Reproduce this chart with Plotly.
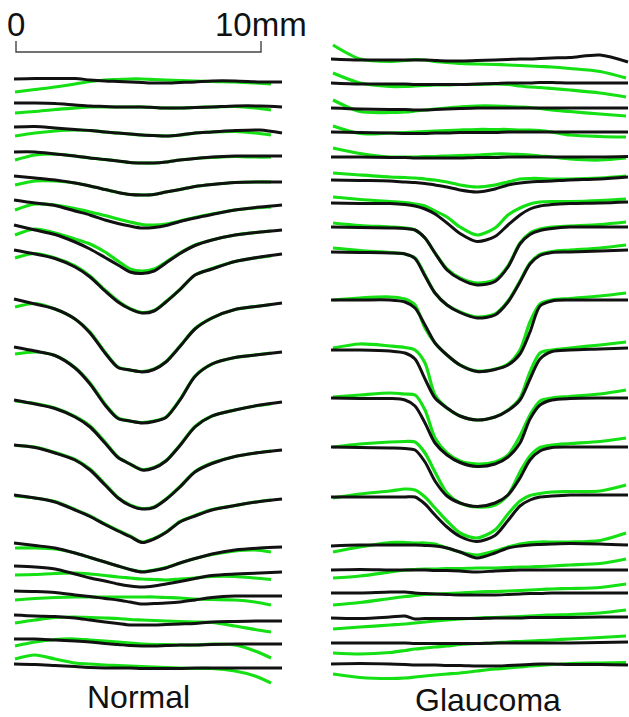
import plotly.graph_objects as go

# ---------------- data (scan units: 24.5 units = 1 mm) ----------------
PX_PER_MM = 24.5
SCALE_MM = [0, 10]
SCALE_LABELS = ["0", "10mm"]
PANEL_LABELS = ["Normal", "Glaucoma"]

# Normal eye: sample positions along the scan (relative to panel start)
NORMAL_SCAN_X = [0, 21, 41, 61, 76, 91, 104, 116, 128, 140, 152, 166, 181, 198, 221, 246, 268]
NORMAL_FIT_X = [1, 21, 41, 61, 76, 91, 104, 116, 128, 140, 152, 166, 181, 198, 221, 241, 257]
NORMAL_BASE = [79, 103, 127, 152, 176, 200, 225, 250, 299, 347, 400, 445, 495, 543, 566, 591, 615, 639, 664]
NORMAL_SCAN = [
    [0, -0.5, -0.5, -0.5, 1, 2, 2.5, 3, 3.5, 4, 4, 3.5, 3, 2, 2, 3, 3],
    [0, 0, 0.5, 2, 3, 3.5, 4, 4, 4, 4.5, 5, 5, 4.5, 4, 3, 3, 4],
    [0, -0.5, 1, 2.5, 3.5, 5, 6, 7, 8, 8.5, 9, 8, 6, 5, 3.5, 3, 6],
    [0, 0, 2, 4, 6, 7.5, 9, 10.5, 11, 11, 10, 8, 6.5, 5, 4, 4, 4],
    [0, 2, 4, 7, 10, 13.5, 16.5, 18.5, 19, 18.5, 16, 13.5, 10.5, 8.5, 6.5, 6, 6],
    [0, 3, 5.5, 11, 15, 20, 23.5, 26, 28, 27.5, 25.5, 21.5, 18, 14.5, 10, 7, 5],
    [0, 5, 9.5, 17, 24, 32.5, 40, 47, 48.5, 46, 38, 28.5, 20.5, 15, 10, 7, 5],
    [0, 4, 8.5, 17, 27, 41, 52, 59, 63, 61, 52, 39.5, 25, 19, 11.5, 7, 4],
    [0, 5, 10, 20, 34, 54, 68.5, 71, 73, 70.5, 63, 47.5, 30, 19, 10.5, 7, 4],
    [0, 4, 8.5, 21, 37, 58, 71.5, 74, 76, 74.5, 70.5, 53, 29.5, 17, 10.5, 7.5, 5],
    [0, 4, 8.5, 17, 27, 43, 57.5, 64, 70, 68, 61, 45.5, 27, 16, 10, 5, 2],
    [0, 2.5, 8, 15, 25, 40, 53, 60.5, 64, 62.5, 54.5, 42, 27, 18.5, 11.5, 7.5, 5],
    [0, 3, 7, 15, 21.5, 29.5, 36, 41.5, 47.5, 44, 37.5, 27, 21, 15, 10.5, 6.5, 4],
    [0, 2.5, 5, 10, 14.5, 19, 23, 26.5, 29, 27.5, 25, 20, 15.5, 11, 7, 5, 4],
    [0, 1, 3, 8, 12, 15, 18, 20, 21, 20, 18, 15.5, 12.5, 9.5, 8, 7, 6],
    [0, 0.5, 1.5, 4, 5.5, 7.5, 9, 11, 13, 12.5, 12, 11, 9, 6.5, 5, 5, 5],
    [0, 1, 1.5, 3, 5, 7, 8.5, 10, 10, 10, 9.5, 9, 8.5, 7, 6.5, 6, 6],
    [0, 0, 1, 2, 3, 4.5, 5.5, 6.5, 7, 7, 6.5, 6, 6, 5.5, 5, 5, 5],
    [0, 0.5, 1.5, 2.5, 3.5, 4, 4, 4, 4.5, 4.5, 4.5, 4.5, 4, 4, 4, 4, 4],
]
NORMAL_FIT = [
    [13, 10.5, 8, 5, 2.5, 1, 0.5, 0, 0, 0.5, 1, 1.5, 2, 2.5, 3, 4, 5],
    [10, 8.5, 6.5, 5, 4, 4, 4, 4, 4, 4.5, 5, 5, 4.5, 4, 3.5, 5, 7],
    [9, 6, 4, 3, 3.5, 5, 6, 7, 8, 8.5, 9, 8, 6, 5, 4.5, 6, 8],
    [8, 3, 2, 4, 6, 7.5, 9, 10.5, 11, 11, 10, 8, 6.5, 5.5, 4.5, 5, 5],
    [9, 5, 5, 7, 10, 13.5, 16.5, 18.5, 19, 18.5, 16, 13.5, 10.5, 8.5, 6.5, 6, 6],
    [10, 4, 5, 8.5, 12, 15.5, 19, 22, 24.5, 25, 24, 21, 17.5, 14, 10, 8, 7],
    [10, 4, 8, 14, 19, 27, 36, 44, 46, 44, 37, 28, 20, 15, 10, 7.5, 6],
    [8, 3.5, 8, 16, 26, 40, 51, 58.5, 62.5, 60.5, 51.5, 39.5, 25, 18.5, 11.5, 8, 6],
    [8, 4.5, 10, 20, 33, 53, 68, 71, 72.5, 70, 62.5, 47, 29.5, 19, 10.5, 7.5, 5.5],
    [7, 5, 8.5, 20.5, 36, 57, 71, 74, 75.5, 74, 70, 52.5, 29, 17, 10.5, 8, 6],
    [1, 3.5, 8, 16.5, 26, 42, 57, 64, 69.5, 67.5, 60.5, 45, 26.5, 16, 10, 6, 4],
    [0.5, 2, 7.5, 14.5, 24, 39, 52.5, 60, 63.5, 62, 54, 41.5, 26.5, 18, 11.5, 8, 6],
    [1, 3, 6.5, 14.5, 21, 29, 35.5, 41, 47, 43.5, 37, 26.5, 20.5, 14.5, 10.5, 7, 5],
    [5, 5, 6, 10, 14.5, 19, 23, 26.5, 28.5, 27, 24.5, 20, 15.5, 11.5, 8, 7, 9],
    [9, 8.5, 7.5, 7, 8, 9.5, 11, 12, 13, 13.5, 14, 13, 12, 10.5, 10.5, 12, 13.5],
    [9, 7.5, 6.5, 6, 6, 6, 6, 6, 6, 6, 6.5, 7, 8, 8.5, 9, 11, 14],
    [8, 5, 2.5, 2, 2.5, 3, 3.5, 4.5, 5, 5.5, 6, 6.5, 7, 7.5, 11, 14.5, 17],
    [7, 3, 0.5, 0, 1, 2, 3, 4, 5, 5.5, 5.5, 6, 6, 5, 6, 12, 19],
    [-5, -9, -5, -1, 0, 1, 1.5, 2, 2.5, 3, 3.5, 4, 4.5, 4.5, 7, 12, 19],
]

# Glaucoma eye
GLAUCOMA_SCAN_X = [0, 29, 59, 74, 84, 94, 104, 116, 129, 146, 164, 177, 189, 199, 209, 221, 239, 269, 297]
GLAUCOMA_FIT_X = [2, 29, 59, 74, 84, 94, 104, 116, 129, 146, 164, 177, 189, 199, 209, 221, 239, 269, 295]
GLAUCOMA_BASE = [59, 83, 108, 132, 157, 180, 203, 227, 252, 300, 350, 398, 447, 497, 546, 570, 593, 618, 643, 664]
GLAUCOMA_SCAN = [
    [0, 1, 1, 1, 1, 1, 1.5, 2, 2, 1.5, 1, 0.5, 0, 0, -0.5, -1, -1.5, -4, 3],
    [0, 1, 1, 1, 1.5, 1.5, 1.5, 1.5, 1.5, 1, 0.5, 0, 0, 0, -0.5, -0.5, 0, 0, 0],
    [0, 1, 1.5, 1.5, 2, 2, 1.5, 1, 0.5, 0, 0, 0, 0, 0, 0, 0, 0, 0, 0],
    [0, 0.5, 1, 1.5, 1.5, 1.5, 1, 1, 0.5, 0.5, 0.5, 0, 0, 0, 0, 0, 0, 0, 0],
    [0, 0, 0.5, 0.5, 1, 1, 1, 1, 1, 0.5, 0.5, 0, 0, 0, 0, 0, 0, 0, -0.5],
    [0, 0.5, 1, 2, 2.5, 3.5, 5, 7, 10, 12, 9, 5, 3, 2, 1.5, 1, 0, -1, -3],
    [0, 0.5, 0.5, 1.5, 3, 6, 11, 20, 30.5, 38.5, 33.5, 22, 12, 6, 3, 1.5, 0.5, 0, -1],
    [0, 0.5, 1, 1.5, 3, 11, 26, 43, 52, 58, 54.5, 40, 17, 7.5, 3.5, 1.5, 0, 0, 0],
    [0, 0.5, 1, 2, 6.5, 24, 41, 53, 60.5, 66, 63, 50, 30, 12, 3.5, 0.5, 0, -1, -2],
    [0, 0, 0, 2, 8, 25, 43, 55, 65, 71.5, 69.5, 65, 54, 32, 6, 1, 0, 0, 0],
    [0, 0, 1, 3, 9, 29, 48, 58, 66, 70, 67, 60.5, 50, 29, 9, 1.5, 0, -1, -2],
    [0, 0.5, 0.5, 2, 8, 25, 45, 57, 64.5, 68.5, 66, 59, 45, 21, 7, 2, 0.5, 0, 0],
    [0, 0.5, 1, 1.5, 3, 15, 34, 49, 56, 59.5, 56, 48, 31, 13, 4, 0.5, 0, 0, 0],
    [0, 0, 0, 0, 0, 7, 18, 30, 39.5, 44.5, 38.5, 23.5, 9, 3, 0, -1, -2, -2, -2],
    [0, -1, -1, -1, -1, -0.5, 0, 2, 6, 12, 7, 2, 0, -1, -1.5, -2, -2.5, -2, -1],
    [0, -0.5, 0, 0, 0, 0, 0.5, 0.5, 1, 2, 1, 0.5, 0, 0, 0, 0, 0, 0, 0],
    [0, 0, -1, -1, 0, 0.5, 1, 1.5, 2, 2, 2, 1.5, 1, 0.5, 0.5, 0, 0, 0, 0],
    [0, 0.5, -1, -2, 1, 0.5, 0.5, 0.5, 0.5, 0.5, 0, 0, 0, -0.5, -0.5, -0.5, -0.5, -1, -1],
    [0, 0, 0, 0, 0.5, 0.5, 0.5, 0.5, 0.5, 0.5, 0, 0, 0, 0, 0, 0, 0, -0.5, -1],
    [0, -0.5, 0, 0.5, 1, 1, 1, 1.5, 1.5, 2, 2, 1.5, 1, 0.5, 0, 0, 0.5, 0.5, 1],
]
GLAUCOMA_FIT = [
    [-14, 0, 2.5, 1.5, 0.5, 1, 2.5, 3.5, 4.5, 5, 5.5, 6, 6.5, 7, 7.5, 8, 9.5, 12.5, 19],
    [-10, 0, 3.5, 3.5, 3, 2.5, 2, 2, 1.5, 1.5, 1, 1.5, 3, 4, 4.5, 5.5, 7, 10, 14],
    [-8, 3.5, 4.5, 4, 3, 2, 1, 0, -1, -2, -2, -1.5, -1, -0.5, 0.5, 2, 3.5, 6, 8],
    [-6, 1.5, 1, 0.5, 0, -0.5, -1, -1.5, -2, -2.5, -2.5, -2.5, -2, -2, -1.5, 0, 3, 4.5, 5],
    [-9, -3.5, 0, 0, 0, -0.5, -0.5, -1, -1.5, -2, -3, -3, -2.5, -2, -1, 0, 2, 3, 1],
    [-7, -5, -3, -2.5, -2, -1, 0, 2, 5, 7, 5, 2, -1, -1.5, -1.5, -1, -1, -2, -4],
    [-6, -3.5, -1.5, -0.5, 1, 3, 8, 14, 24, 32, 25, 12, 5, 1, -1, -1.5, -1.5, -2.5, -4],
    [-4, -1.5, 0, 1, 3, 11, 26, 42, 51, 56, 53, 39, 16, 6, 2, 0, -1, -2.5, -5],
    [-4, -1.5, 0.5, 2, 6, 23, 41, 53, 60, 65, 62, 49, 29, 11, 2.5, -0.5, -2, -4, -7],
    [0, -2, -3, -1, 5, 28, 43, 55, 65, 71, 69, 64, 50, 22, 4, 0, -1.5, -4, -7],
    [-2, -6, -4, -2.5, 0, 13, 45, 58, 66, 70, 67, 60, 48, 22, 3, 0, -2, -5, -8],
    [-1, -3, -5, -4, -3, 12, 40, 55, 63, 66, 64, 57, 38, 17, 3, 0, -1.5, -4, -8],
    [0, -3, -5, -5.5, -5, 6, 25, 46, 56, 60, 58, 48, 25, 9, 0.5, -2, -3.5, -5.5, -9],
    [1, -3, -6, -8, -7, 0, 11, 24, 36, 41, 33, 17, 4, -1.5, -3.5, -5, -5.5, -6, -12],
    [6, 1, -3.5, -3.5, -3, -3, -2, 2, 6, 9, 5, 1, -2, -3.5, -4, -4, -4, -5.5, -13],
    [8, 6, 2, 0, -0.5, -1, -1, -1.5, -1.5, -2, -2, -2.5, -3, -3, -3.5, -4, -5, -6.5, -11],
    [12, 9.5, 5.5, 3.5, 2.5, 1.5, 1, 0.5, 0, -1, -1.5, -2, -2.5, -3, -3.5, -4, -4.5, -5.5, -9],
    [11, 9, 7, 6, 5, 4, 3, 2, 1, 0, -0.5, -1, -1.5, -2, -2.5, -3, -3.5, -5, -8],
    [10, 11, 9.5, 7.5, 6, 5, 4, 3, 1.5, 0.5, 0, -1, -1.5, -2, -2.5, -3, -4, -5.5, -7],
    [10, 13.5, 14.5, 14, 13, 12, 11, 10, 9, 7, 5, 4, 3, 2, 1.5, 0.5, -0.5, -1, -1.5],
]

# ---------------- layout / style ----------------
W, H = 629, 717
PANEL_X0 = [-2, 315]          # panel start, scan units
FIT_COLOR = "#14e014"
SCAN_COLOR = "#111111"
FONT = "Liberation Sans, Arial, sans-serif"

panels = [
    (NORMAL_SCAN_X, NORMAL_FIT_X, NORMAL_BASE, NORMAL_SCAN, NORMAL_FIT),
    (GLAUCOMA_SCAN_X, GLAUCOMA_FIT_X, GLAUCOMA_BASE, GLAUCOMA_SCAN, GLAUCOMA_FIT),
]

fig = go.Figure()

# fitted (green) profiles underneath
for x0, (sx, fx, base, scans, fits) in zip(PANEL_X0, panels):
    for b, f in zip(base, fits):
        fig.add_trace(go.Scatter(
            x=[x0 + v for v in fx], y=[b + d for d in f], mode="lines",
            line=dict(color=FIT_COLOR, width=3.2, shape="spline", smoothing=0.8),
            hoverinfo="skip"))
# measured (black) profiles on top
for x0, (sx, fx, base, scans, fits) in zip(PANEL_X0, panels):
    for b, s in zip(base, scans):
        fig.add_trace(go.Scatter(
            x=[x0 + v for v in sx], y=[b + d for d in s], mode="lines",
            line=dict(color=SCAN_COLOR, width=3, shape="spline", smoothing=0.8),
            hoverinfo="skip"))

# scale bar
bar_x = [m * PX_PER_MM for m in SCALE_MM]
BAR_Y, TICK_H = 52, 11
fig.add_trace(go.Scatter(
    x=[bar_x[0], bar_x[0], bar_x[1], bar_x[1]],
    y=[BAR_Y - TICK_H, BAR_Y, BAR_Y, BAR_Y - TICK_H],
    mode="lines", line=dict(color="#444444", width=1.4), hoverinfo="skip"))

annotations = []
for bx, lab in zip(bar_x, SCALE_LABELS):
    annotations.append(dict(x=bx, y=24, xref="x", yref="y", text=lab, showarrow=False,
                            xanchor="center", yanchor="middle",
                            font=dict(family=FONT, size=33, color="#111111")))
for cx, cy, lab in zip([122.5, 471.5], [697, 700], PANEL_LABELS):
    annotations.append(dict(x=cx, y=cy, xref="x", yref="y", text=lab, showarrow=False,
                            xanchor="center", yanchor="middle",
                            font=dict(family=FONT, size=32, color="#111111")))

fig.update_layout(
    width=W, height=H, margin=dict(l=0, r=0, t=0, b=0),
    paper_bgcolor="white", plot_bgcolor="white", showlegend=False,
    xaxis=dict(range=[-16, W - 16], visible=False, fixedrange=True),
    yaxis=dict(range=[H, 0], visible=False, fixedrange=True),
    annotations=annotations,
)

fig.write_html("out.html", config={"displayModeBar": False},
               post_script="document.body.style.margin='0';document.body.style.overflow='hidden';")
